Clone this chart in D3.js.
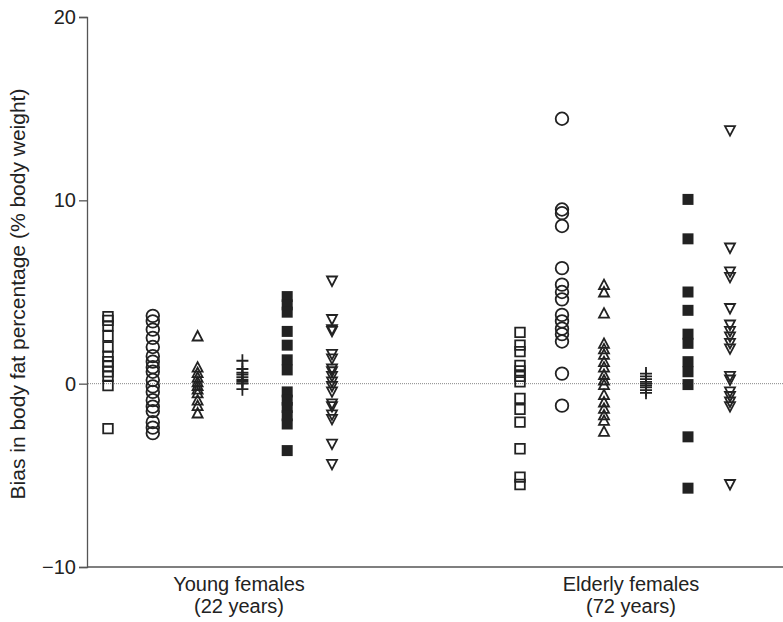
<!DOCTYPE html>
<html>
<head>
<meta charset="utf-8">
<script src="https://cdn.jsdelivr.net/npm/d3@7"></script>
<style>
  body { margin: 0; background: #fff; }
  text { font-family: "Liberation Sans", Arial, sans-serif; fill: #222; }
</style>
</head>
<body>
<svg id="chart" width="783" height="622"></svg>
<script>
// groups on the x axis
let groups = ["young", "elderly"];
let groupLabels = [["Young females", "(22 years)"], ["Elderly females", "(72 years)"]];
let series = ["openSquare", "openCircle", "openTriangle", "cross", "filledSquare", "downTriangle"];
let yTicks = [-10, 0, 10, 20];

// bias values, per group and series
let youngOpenSquare = [3.65, 3.45, 3.15, 2.6, 2.0, 1.5, 1.2, 0.95, 0.65, 0.4, -0.1, -2.45];
let youngOpenCircle = [3.7, 3.4, 2.95, 2.5, 2.0, 1.5, 1.2, 0.9, 0.65, 0.2, -0.15, -0.45, -0.9, -1.25, -1.5, -2.1, -2.4, -2.7];
let youngOpenTriangle = [2.6, 0.9, 0.6, 0.35, 0.1, -0.1, -0.3, -0.5, -0.9, -1.2, -1.6];
let youngCross = [1.25, 0.8, 0.6, 0.5, 0.35, 0.2, 0.1, 0.0, -0.3];
let youngFilledSquare = [4.75, 4.3, 3.9, 2.85, 2.1, 1.3, 0.75, -0.45, -0.9, -1.3, -1.75, -2.2, -3.65];
let youngDownTriangle = [5.6, 3.5, 2.95, 2.85, 1.6, 1.35, 0.8, 0.65, 0.4, 0.1, -0.15, -0.45, -1.1, -1.25, -1.7, -1.95, -3.3, -4.4];

let elderlyOpenSquare = [2.8, 2.1, 1.75, 1.0, 0.7, 0.4, 0.1, -0.8, -1.4, -2.1, -3.55, -5.1, -5.5];
let elderlyOpenCircle = [14.45, 9.5, 9.3, 8.6, 6.3, 5.4, 5.0, 4.6, 3.75, 3.4, 3.0, 2.7, 2.3, 0.55, -1.2];
let elderlyOpenTriangle = [5.4, 5.0, 3.85, 2.2, 1.9, 1.6, 1.2, 0.9, 0.5, 0.2, -0.05, -0.6, -1.0, -1.35, -1.7, -2.0, -2.6];
let elderlyCross = [0.55, 0.4, 0.25, 0.1, 0.0, -0.1, -0.2, -0.35, -0.5];
let elderlyFilledSquare = [10.05, 7.9, 5.0, 4.0, 2.7, 2.2, 1.2, 0.65, -0.05, -2.9, -5.7];
let elderlyDownTriangle = [13.8, 7.4, 6.1, 5.8, 4.1, 3.2, 2.85, 2.55, 2.2, 1.9, 0.4, 0.2, -0.45, -0.7, -1.0, -1.25, -5.5];

let values = {
    young: [youngOpenSquare, youngOpenCircle, youngOpenTriangle, youngCross, youngFilledSquare, youngDownTriangle],
    elderly: [elderlyOpenSquare, elderlyOpenCircle, elderlyOpenTriangle, elderlyCross, elderlyFilledSquare, elderlyDownTriangle]
};

let svg = d3.select("#chart");
let axisLeft = 87, axisBottom = 567, axisTop = 17;

let y = d3.scaleLinear().domain([-10, 20]).range([axisBottom, axisTop]);
let xLabel = d3.scalePoint().domain(groups).range([239, 631]);
// columns inside each group
let xSeries = {
    young: d3.scalePoint().domain(series).range([108, 332]),
    elderly: d3.scalePoint().domain(series).range([520, 730])
};

// flatten into points
let points = [];
groups.forEach(g => {
    series.forEach((s, i) => {
        values[g][i].forEach(v => points.push({group: g, series: s, value: v}));
    });
});

// zero reference line
svg.append("line")
    .attr("x1", axisLeft + 1).attr("x2", 783)
    .attr("y1", y(0)).attr("y2", y(0))
    .attr("stroke", "#888").attr("stroke-width", 1)
    .attr("stroke-dasharray", "1,1");

// axes
let yAxis = d3.axisLeft(y).tickValues(yTicks).tickSize(8).tickPadding(3)
    .tickFormat(d => d < 0 ? "\u2212" + Math.abs(d) : d);
let gy = svg.append("g").attr("transform", `translate(${axisLeft},0)`).call(yAxis);
gy.select(".domain").attr("stroke", "#555").attr("stroke-width", 1.3);
gy.selectAll(".tick line").attr("stroke", "#555").attr("stroke-width", 1.3);
gy.selectAll(".tick text").attr("font-size", 20).attr("fill", "#222")
    .attr("font-family", "Liberation Sans, Arial, sans-serif");

svg.append("line")
    .attr("x1", axisLeft).attr("x2", 783)
    .attr("y1", axisBottom).attr("y2", axisBottom)
    .attr("stroke", "#555").attr("stroke-width", 1.3);

// group labels
groups.forEach((g, i) => {
    let t = svg.append("text")
        .attr("x", xLabel(g)).attr("y", 591)
        .attr("text-anchor", "middle").attr("font-size", 20);
    t.append("tspan").attr("x", xLabel(g)).attr("dy", 0).text(groupLabels[i][0]);
    t.append("tspan").attr("x", xLabel(g)).attr("dy", 22).text(groupLabels[i][1]);
});

// y axis title
svg.append("text")
    .attr("transform", "translate(25,294) rotate(-90)")
    .attr("text-anchor", "middle").attr("font-size", 21)
    .text("Bias in body fat percentage (% body weight)");

// marker shapes
function markerPath(s) {
    if (s === "openSquare") return "M-4.8,-4.8H4.8V4.8H-4.8Z";
    if (s === "filledSquare") return "M-5.5,-5.5H5.5V5.5H-5.5Z";
    if (s === "openCircle") return d3.symbol(d3.symbolCircle, 125)();
    if (s === "openTriangle") return "M0,-5L5,4.5H-5Z";
    if (s === "downTriangle") return "M0,5L5,-4.5H-5Z";
    if (s === "cross") return "M-6,0H6M0,-6.5V6.5";
}

svg.append("g").selectAll("path")
    .data(points)
    .join("path")
    .attr("transform", d => `translate(${xSeries[d.group](d.series)},${y(d.value)})`)
    .attr("d", d => markerPath(d.series))
    .attr("fill", d => d.series === "filledSquare" ? "#222" : "none")
    .attr("stroke", "#222")
    .attr("stroke-width", d => d.series === "filledSquare" ? 0 : 1.8);
</script>
</body>
</html>
